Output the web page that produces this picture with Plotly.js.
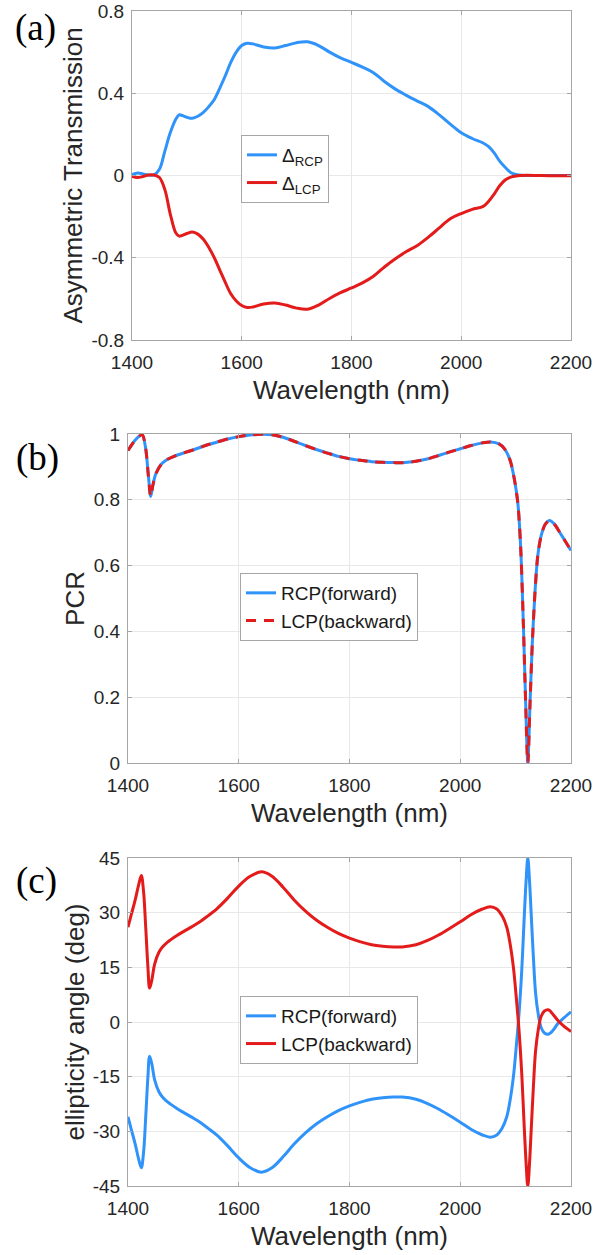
<!DOCTYPE html>
<html>
<head>
<meta charset="utf-8">
<script src="https://cdn.plot.ly/plotly-3.0.1.min.js"></script>
<style>html,body{margin:0;padding:0;background:#fff;}#chart{width:606px;height:1255px;}</style>
</head>
<body>
<div id="chart"></div>
<script>
// ---------- Data ----------
const xTicks = [1400, 1600, 1800, 2000, 2200];
const xTickText = ['1400', '1600', '1800', '2000', '2200'];

// (a) Asymmetric transmission
const wlA = [1400,1410,1420,1430,1440,1450,1460,1470,1480,1486,1490,1500,1510,1520,1530,1540,1550,1560,1570,1580,1590,1600,1610,1620,1640,1660,1680,1700,1720,1740,1760,1780,1800,1820,1840,1860,1880,1900,1920,1940,1960,1980,2000,2020,2040,2050,2060,2070,2080,2090,2100,2110,2120,2140,2160,2180,2200];
const deltaRCP = [0.005,0.012,0.008,0.002,0.003,0.03,0.12,0.21,0.275,0.295,0.293,0.283,0.278,0.288,0.307,0.335,0.37,0.425,0.485,0.55,0.6,0.632,0.643,0.64,0.625,0.62,0.632,0.646,0.65,0.632,0.6,0.572,0.55,0.527,0.5,0.457,0.42,0.39,0.362,0.335,0.295,0.25,0.208,0.18,0.158,0.14,0.11,0.07,0.04,0.015,0.005,0.001,0,0,0,0,0];
const deltaLCP = [-0.005,-0.01,-0.005,0.002,0.002,-0.01,-0.07,-0.19,-0.28,-0.295,-0.293,-0.282,-0.275,-0.285,-0.31,-0.35,-0.4,-0.46,-0.52,-0.575,-0.61,-0.632,-0.642,-0.64,-0.625,-0.62,-0.63,-0.645,-0.65,-0.63,-0.598,-0.57,-0.547,-0.522,-0.49,-0.445,-0.405,-0.37,-0.34,-0.3,-0.255,-0.21,-0.185,-0.165,-0.15,-0.125,-0.09,-0.05,-0.022,-0.008,-0.002,0,0.001,0,-0.001,-0.001,-0.001];
const yTicksA = [-0.8, -0.4, 0, 0.4, 0.8];
const yTickTextA = ['-0.8', '-0.4', '0', '0.4', '0.8'];

// (b) PCR
const wlB = [1400,1410,1420,1426,1432,1437,1441,1445,1450,1460,1470,1480,1500,1520,1540,1560,1580,1600,1620,1640,1660,1680,1700,1720,1740,1760,1780,1800,1820,1840,1860,1880,1900,1920,1940,1960,1980,2000,2020,2040,2055,2070,2080,2090,2098,2104,2109,2114,2118,2122,2126,2130,2135,2140,2146,2153,2161,2170,2180,2190,2200];
const pcrRCP = [0.95,0.975,0.993,0.997,0.955,0.87,0.81,0.845,0.878,0.908,0.922,0.93,0.942,0.953,0.965,0.975,0.985,0.992,0.997,0.999,0.998,0.99,0.978,0.965,0.953,0.942,0.932,0.925,0.92,0.916,0.914,0.913,0.913,0.917,0.924,0.934,0.945,0.955,0.965,0.973,0.976,0.97,0.955,0.92,0.86,0.79,0.66,0.42,0.19,0.0,0.18,0.36,0.52,0.63,0.69,0.724,0.737,0.726,0.7,0.673,0.646];
const pcrLCP = [0.95,0.975,0.993,0.997,0.955,0.87,0.81,0.845,0.878,0.908,0.922,0.93,0.942,0.953,0.965,0.975,0.985,0.992,0.997,0.999,0.998,0.99,0.978,0.965,0.953,0.942,0.932,0.925,0.92,0.916,0.914,0.913,0.913,0.917,0.924,0.934,0.945,0.955,0.965,0.973,0.976,0.97,0.955,0.92,0.86,0.79,0.66,0.42,0.19,0.0,0.18,0.36,0.52,0.63,0.69,0.724,0.737,0.726,0.7,0.673,0.646];
const yTicksB = [0, 0.2, 0.4, 0.6, 0.8, 1];
const yTickTextB = ['0', '0.2', '0.4', '0.6', '0.8', '1'];

// (c) Ellipticity angle
const wlC = [1400,1406,1413,1419,1424,1428,1432,1436,1439,1443,1448,1456,1463,1472,1487,1500,1515,1530,1545,1560,1580,1600,1620,1641,1660,1680,1700,1720,1740,1760,1780,1800,1820,1840,1860,1880,1895,1920,1940,1960,1980,2000,2020,2040,2054,2066,2076,2084,2090,2096,2101,2106,2111,2115,2119,2122,2125,2128,2132,2136,2141,2146,2152,2160,2168,2176,2186,2200];
const ellRCP = [-26,-29.5,-33.5,-37.5,-40,-36,-26,-15,-9.4,-11.5,-15.8,-19.2,-20.7,-22,-23.6,-24.8,-26.1,-27.5,-29.2,-31,-34,-37.3,-39.9,-41.2,-40,-37,-33.5,-30.5,-28,-26,-24.3,-23,-22,-21.2,-20.8,-20.6,-20.6,-21.2,-22.3,-23.8,-25.6,-27.5,-29.5,-31,-31.6,-31,-29,-26,-21.5,-15,-7,2,14,27,39,45,39,30,18,8,2,-1.5,-3,-3.3,-2.2,-0.5,1,2.8];
const ellLCP = [26,29.5,33.5,37.5,40.2,36,26,15,9.3,11.5,15.8,19.2,20.7,22,23.6,24.8,26.1,27.5,29.2,31,34,37.3,39.9,41.2,40,37,33.5,30.5,28,26,24.3,23,22,21.2,20.8,20.6,20.6,21.2,22.3,23.8,25.6,27.5,29.5,31,31.6,31,29,26,21.5,15,7,-2,-14,-27,-39,-45,-39,-30,-18,-8,-2,1.5,3,3.3,2,0.5,-1,-2.6];
const yTicksC = [-45, -30, -15, 0, 15, 30, 45];
const yTickTextC = ['-45', '-30', '-15', '0', '15', '30', '45'];

// ---------- Style ----------
const BLUE = '#2f93fa';
const RED = '#e31b1b';
const FONT = 'Liberation Sans, Arial, Helvetica, sans-serif';
const SERIF = 'Liberation Serif, Times New Roman, serif';
const TXT = '#262626';
const W = 606, H = 1255;
const fx = px => px / W;
const fy = px => 1 - px / H;

const lineSpline = (c, sm, dash) => ({color: c, width: 3, shape: 'spline', smoothing: sm, dash: dash || 'solid'});

const traces = [
  {x: wlA, y: deltaRCP, name: 'Δ<sub>RCP</sub>', mode: 'lines', line: lineSpline(BLUE, 1), xaxis: 'x', yaxis: 'y', legend: 'legend'},
  {x: wlA, y: deltaLCP, name: 'Δ<sub>LCP</sub>', mode: 'lines', line: lineSpline(RED, 1), xaxis: 'x', yaxis: 'y', legend: 'legend'},
  {x: wlB, y: pcrRCP, name: 'RCP(forward)', mode: 'lines', line: lineSpline(BLUE, 0.8), xaxis: 'x2', yaxis: 'y2', legend: 'legend2'},
  {x: wlB, y: pcrLCP, name: 'LCP(backward)', mode: 'lines', line: lineSpline(RED, 0.8, '10px,8px'), xaxis: 'x2', yaxis: 'y2', legend: 'legend2'},
  {x: wlC, y: ellRCP, name: 'RCP(forward)', mode: 'lines', line: lineSpline(BLUE, 1), xaxis: 'x3', yaxis: 'y3', legend: 'legend3'},
  {x: wlC, y: ellLCP, name: 'LCP(backward)', mode: 'lines', line: lineSpline(RED, 1), xaxis: 'x3', yaxis: 'y3', legend: 'legend3'}
];

const axBase = {
  showline: true, linecolor: '#a6a6a6', linewidth: 1, mirror: 'ticks',
  ticks: 'inside', ticklen: 4, tickcolor: '#a6a6a6',
  showgrid: true, gridcolor: '#e8e8e8', gridwidth: 1, zeroline: false,
  tickfont: {family: FONT, size: 19, color: TXT}, automargin: false, fixedrange: true
};
const xAx = (anchor, dom) => Object.assign({}, axBase, {
  anchor: anchor, domain: dom, range: [1400, 2200], tickmode: 'array', tickvals: xTicks, ticktext: xTickText,
  ticklabelstandoff: 5,
  title: {text: 'Wavelength (nm)', font: {family: FONT, size: 26, color: TXT}, standoff: 9}
});
const yAx = (anchor, dom, rng, tv, tt, title, so) => Object.assign({}, axBase, {
  anchor: anchor, domain: dom, range: rng, tickmode: 'array', tickvals: tv, ticktext: tt,
  ticklabelstandoff: 3,
  title: {text: title, font: {family: FONT, size: 26, color: TXT}, standoff: so}
});
const legBase = (x, y) => ({
  x: x, y: y, xanchor: 'left', yanchor: 'top', bgcolor: '#ffffff',
  bordercolor: '#a6a6a6', borderwidth: 1, font: {family: FONT, size: 19, color: '#1a1a1a'},
  itemwidth: 30, tracegroupgap: 0
});
const panelLabel = (t, x, y) => ({text: t, x: fx(x), y: fy(y), xref: 'paper', yref: 'paper', showarrow: false,
  xanchor: 'center', yanchor: 'middle', font: {family: SERIF, size: 37, color: '#000'}});

const layout = {
  width: W, height: H, margin: {l: 0, r: 0, t: 0, b: 0},
  paper_bgcolor: '#ffffff', plot_bgcolor: '#ffffff', showlegend: true,
  xaxis:  xAx('y',  [fx(132), fx(571)]),
  yaxis:  yAx('x',  [fy(340), fy(11)], [-0.8, 0.8], yTicksA, yTickTextA, 'Asymmetric Transmission', 1),
  xaxis2: xAx('y2', [fx(128), fx(571)]),
  yaxis2: yAx('x2', [fy(763), fy(434)], [0, 1], yTicksB, yTickTextB, 'PCR', 1),
  xaxis3: xAx('y3', [fx(128), fx(571)]),
  yaxis3: yAx('x3', [fy(1186), fy(858)], [-45, 45], yTicksC, yTickTextC, 'ellipticity angle (deg)', 0),
  legend:  legBase(fx(241), fy(135)),
  legend2: legBase(fx(240), fy(573)),
  legend3: legBase(fx(240), fy(996)),
  annotations: [panelLabel('(a)', 35, 28), panelLabel('(b)', 37, 458), panelLabel('(c)', 36, 881)]
};

Plotly.newPlot('chart', traces, layout, {staticPlot: true, displayModeBar: false});
</script>
</body>
</html>
